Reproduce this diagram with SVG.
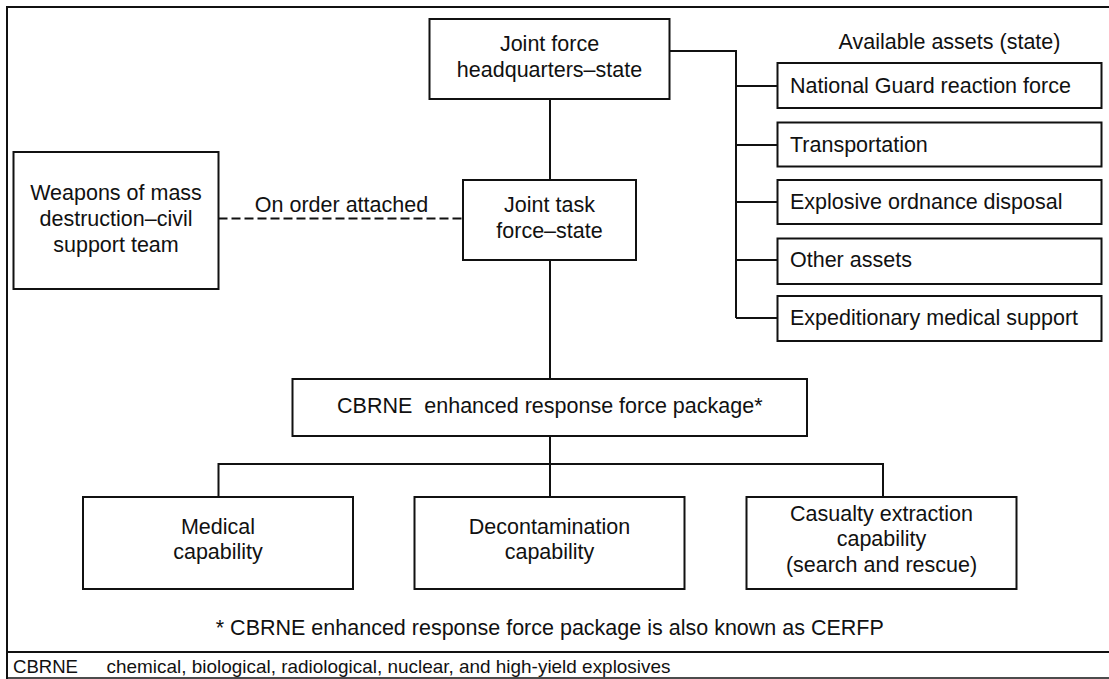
<svg xmlns="http://www.w3.org/2000/svg" width="1109" height="679" viewBox="0 0 1109 679">
<style>
.box{fill:#fff;stroke:#111;stroke-width:2}
.ln{fill:none;stroke:#111;stroke-width:2}
.dash{fill:none;stroke:#111;stroke-width:2;stroke-dasharray:9 4}
text{font-family:"Liberation Sans",Arial,sans-serif;font-size:21.5px;fill:#111}
.c{text-anchor:middle}
.s{font-size:19px}
</style>
<rect x="0" y="0" width="1109" height="679" fill="#fff"/>
<g id="frame">
<path class="ln" d="M7 7H1112M7 6V679M7 652H1112"/>
<path fill="none" stroke="#111" stroke-width="1.5" d="M7 678H1112"/>
</g>
<g id="connectors">
<path class="ln" d="M550 99V180M550 260V379M550 436V497M218.5 497V464H883V497"/>
<path class="ln" d="M669.5 51H736V318M736 86H777.5M736 145H777.5M736 202H777.5M736 260H777.5M736 318H777.5"/>
<path class="dash" d="M218.5 218.5H463"/>
<text class="c" x="341.5" y="212">On order attached</text>
</g>
<g id="jfhq">
<rect class="box" x="429.5" y="19" width="240" height="80"/>
<text class="c" x="549.5" y="51">Joint force</text>
<text class="c" x="549.5" y="77">headquarters–state</text>
</g>
<g id="jtf">
<rect class="box" x="463" y="180" width="173" height="80"/>
<text class="c" x="549.5" y="212">Joint task</text>
<text class="c" x="549.5" y="237.5">force–state</text>
</g>
<g id="wmd">
<rect class="box" x="13.5" y="152" width="205" height="137"/>
<text class="c" x="116" y="200">Weapons of mass</text>
<text class="c" x="116" y="226">destruction–civil</text>
<text class="c" x="116" y="252">support team</text>
</g>
<g id="assets-header">
<text class="c" x="949.5" y="48.5">Available assets (state)</text>
</g>
<g id="asset1">
<rect class="box" x="777.5" y="63" width="324" height="45"/>
<text x="790" y="92.7">National Guard reaction force</text>
</g>
<g id="asset2">
<rect class="box" x="777.5" y="122.5" width="324" height="44"/>
<text x="790" y="151.7">Transportation</text>
</g>
<g id="asset3">
<rect class="box" x="777.5" y="180" width="324" height="44"/>
<text x="790" y="209.3">Explosive ordnance disposal</text>
</g>
<g id="asset4">
<rect class="box" x="777.5" y="238.5" width="324" height="45.5"/>
<text x="790" y="266.7">Other assets</text>
</g>
<g id="asset5">
<rect class="box" x="777.5" y="296" width="324" height="45"/>
<text x="790" y="325">Expeditionary medical support</text>
</g>
<g id="cerfp">
<rect class="box" x="292.5" y="379" width="514.5" height="57"/>
<text class="c" x="549.8" y="413" xml:space="preserve">CBRNE  enhanced response force package*</text>
</g>
<g id="medical">
<rect class="box" x="83" y="497" width="270" height="92"/>
<text class="c" x="218" y="534.3">Medical</text>
<text class="c" x="218" y="559">capability</text>
</g>
<g id="decon">
<rect class="box" x="414.5" y="497" width="270" height="92"/>
<text class="c" x="549.5" y="534.3">Decontamination</text>
<text class="c" x="549.5" y="559">capability</text>
</g>
<g id="casualty">
<rect class="box" x="746.5" y="497" width="270" height="92"/>
<text class="c" x="881.5" y="521">Casualty extraction</text>
<text class="c" x="881.5" y="546">capability</text>
<text class="c" x="881.5" y="572">(search and rescue)</text>
</g>
<g id="notes">
<text class="c" x="549.8" y="635">* CBRNE enhanced response force package is also known as CERFP</text>
<text class="s" x="13" y="673" textLength="65" lengthAdjust="spacingAndGlyphs">CBRNE</text>
<text class="s" x="106.5" y="673" textLength="564" lengthAdjust="spacingAndGlyphs">chemical, biological, radiological, nuclear, and high-yield explosives</text>
</g>
</svg>
